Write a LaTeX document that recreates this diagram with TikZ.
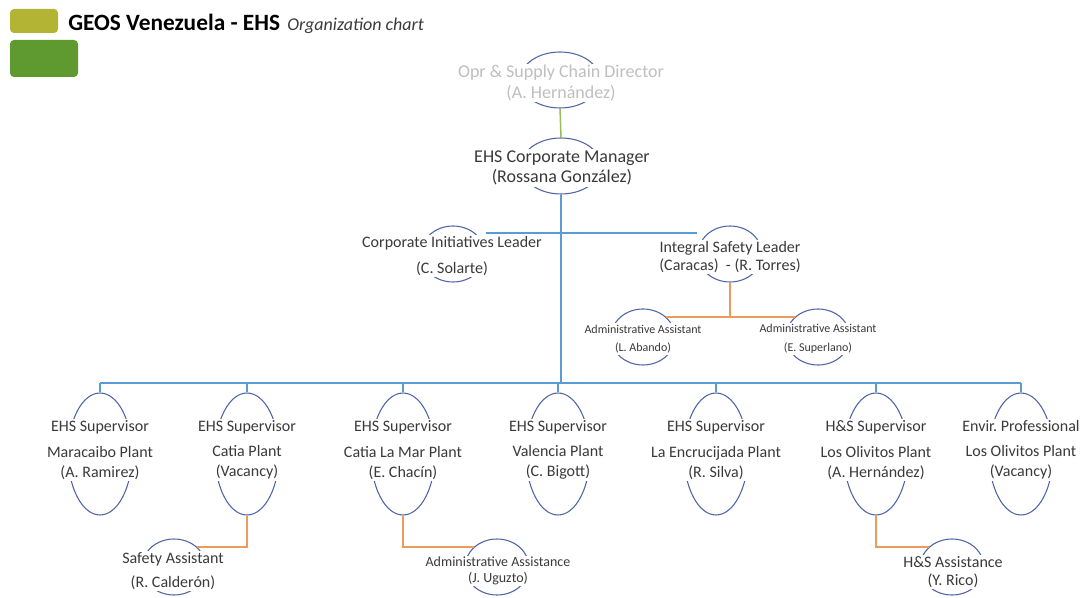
\documentclass[tikz,border=0pt]{standalone}
\usepackage{fontspec}
\setmainfont{Carlito}
\usetikzlibrary{positioning,shapes.geometric}

\definecolor{ringblue}{HTML}{4F63A8}
\definecolor{linkblue}{HTML}{5B9BD5}
\definecolor{linkorange}{HTML}{EE9A5C}
\definecolor{linkgreen}{HTML}{9BBB59}
\definecolor{txtgrey}{HTML}{3A3A3A}
\definecolor{logoolive}{HTML}{B3B434}
\definecolor{logogreen}{HTML}{5E9A30}

\tikzset{
  ring/.style={draw=ringblue, line width=0.8pt, ellipse, inner sep=0pt,
    minimum width=48pt, minimum height=42pt},
  tallring/.style={ring, minimum height=91.5pt},
  widering/.style={ring, minimum width=60pt},
  who/.style={fill=white, inner sep=1pt, align=center, text=txtgrey,
    font=\fontsize{12}{15}\selectfont},
  blueline/.style={draw=linkblue, line width=1.1pt},
  orangeline/.style={draw=linkorange, line width=1.1pt},
  greenline/.style={draw=linkgreen, line width=1.1pt}
}

\begin{document}
\begin{tikzpicture}[x=0.75pt,y=-0.75pt]

  \useasboundingbox (0,0) rectangle (1085,598);

  % header
  \fill[logoolive, rounded corners=3pt] (10,9) rectangle (58,33);
  \fill[logogreen, rounded corners=3pt] (10,40) rectangle (78,77);
  \node[anchor=base west, inner sep=0pt, font=\fontsize{17.5}{20}\selectfont\bfseries] (title) at (68,31) {GEOS Venezuela - EHS};
  \node[anchor=base west, inner sep=0pt, text=txtgrey, font=\fontsize{13.5}{16}\selectfont\itshape] (subtitle) at ([xshift=5pt]title.base east) {Organization chart};

  % top levels
  \node[widering] (dir) at (560,80) {};
  \node[who, text=black!25, font=\fontsize{13.5}{15.5}\selectfont] (dir-t) at (561,83) {Opr \& Supply Chain Director\\(A. Hernández)};
  \node[widering] (mgr) at (561,166) {};
  \node[who, font=\fontsize{13.5}{15.5}\selectfont] (mgr-t) at (562,168) {EHS Corporate Manager\\(Rossana González)};

  \node[ring] (cil) at (453,254) {};
  \node[who] (cil-t) at (452,256) {Corporate Initiatives Leader\\[4.5pt](C. Solarte)};
  \node[ring] (isl) at (730,254) {};
  \node[who, font=\fontsize{12}{14}\selectfont] (isl-t) at (730,257) {Integral Safety Leader\\(Caracas)\ \ - (R. Torres)};

  \node[ring] (aa1) at (643,337) {};
  \node[who, font=\fontsize{9}{14}\selectfont] (aa1-t) at (643,339) {Administrative Assistant\\(L. Abando)};
  \node[ring] (aa2) at (818,337) {};
  \node[who, font=\fontsize{9}{14}\selectfont] (aa2-t) at (818,339) {Administrative Assistant\\(E. Superlano)};

  % plant supervisors
  \foreach \n/\x/\role/\site/\nm in {
      1/100/EHS Supervisor/Maracaibo Plant/(A. Ramirez),
      2/247/EHS Supervisor/Catia Plant/(Vacancy),
      3/403/EHS Supervisor/Catia La Mar Plant/(E. Chacín),
      4/558/EHS Supervisor/Valencia Plant/(C. Bigott),
      5/716/EHS Supervisor/La Encrucijada Plant/(R. Silva),
      6/876/H\&S Supervisor/Los Olivitos Plant/(A. Hernández),
      7/1021/Envir.\ Professional/Los Olivitos Plant/(Vacancy)} {
    \node[tallring] (sup\n) at (\x,454) {};
    \node[who] (sup\n-t) at (\x,450) {\role\\[4pt]\site\\\nm};
  }

  % assistants
  \node[ring] (sa) at (174,567) {};
  \node[who, font=\fontsize{12}{18}\selectfont] (sa-t) at (173,571) {Safety Assistant\\(R. Calderón)};
  \node[ring] (aas) at (497,567) {};
  \node[who, font=\fontsize{10.5}{11.5}\selectfont] (aas-t) at (498,571) {Administrative Assistance\\(J. Uguzto)};
  \node[ring] (hsa) at (952,567) {};
  \node[who, font=\fontsize{12}{13}\selectfont] (hsa-t) at (953,572) {H\&S Assistance\\(Y. Rico)};

  % connectors
  \coordinate (lvl) at (560,233);
  \coordinate (bus) at (560,383);
  \path[greenline] (dir.south) -- (mgr.north);
  \path[blueline] (mgr.south) -- (mgr.south |- bus);
  \path[blueline] (cil.east |- lvl) -- (isl.west |- lvl);
  \path[blueline] (sup1.north |- bus) -- (sup7.north |- bus);
  \foreach \n in {1,...,7}
    \path[blueline] (sup\n.north |- bus) -- (sup\n.north);

  \path[orangeline] (isl.south) -- (isl.south |- aa1.north east);
  \path[orangeline] (aa1.north east) -- (aa2.north west);
  \path[orangeline] (sup2.south) |- (sa.north east);
  \path[orangeline] (sup3.south) |- (aas.north west);
  \path[orangeline] (sup6.south) |- (hsa.north west);

\end{tikzpicture}
\end{document}
